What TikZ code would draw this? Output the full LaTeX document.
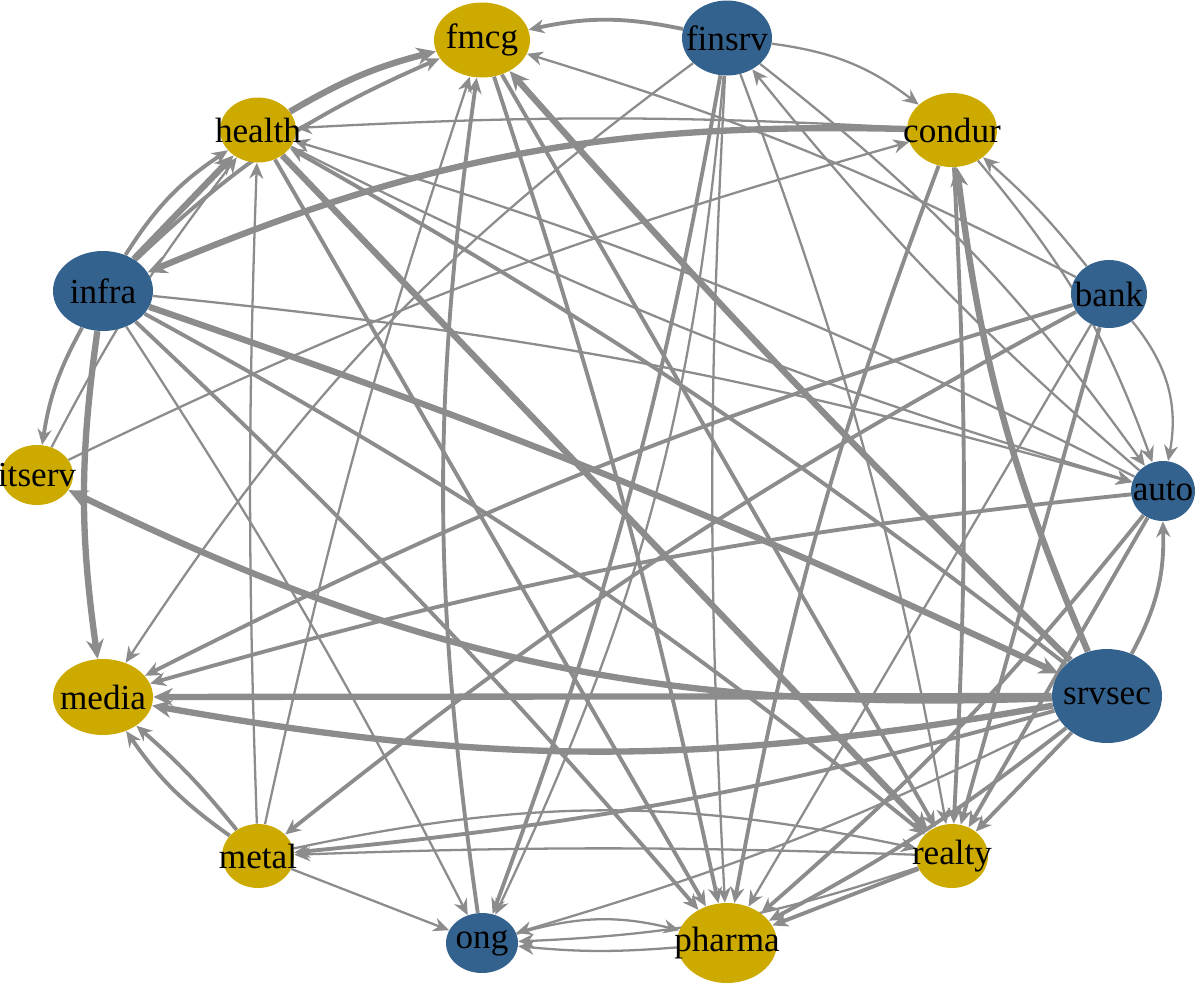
\documentclass[tikz,border=0pt]{standalone}
\usepackage{fontspec}
\setmainfont{Liberation Serif}
\usetikzlibrary{shapes.geometric,arrows.meta}
\definecolor{ny}{RGB}{205,170,0}
\definecolor{nb}{RGB}{52,98,142}
\definecolor{eg}{RGB}{140,140,140}
\pgfdeclarelayer{bg}
\pgfsetlayers{bg,main}
\begin{document}
\begin{tikzpicture}[x=0.02cm,y=-0.02cm,
  vtx/.style={ellipse,inner sep=0pt,label={[font=\fontsize{20}{20}\selectfont,inner sep=0pt]center:#1}},
  yv/.style={vtx=#1,fill=ny},
  bv/.style={vtx=#1,fill=nb},
  ed/.style={draw=eg,line width=1.3pt,-{Stealth[length=9pt,width=8pt]}},
  em/.style={ed,line width=2.2pt},
  et/.style={ed,line width=3.6pt,-{Stealth[length=11pt,width=10pt]}}]
\useasboundingbox (0,0) rectangle (1200,985);
\node[yv=fmcg,minimum width=1.92cm,minimum height=1.5cm] (fmcg) at (482,40) {};
\node[bv=finsrv,minimum width=1.8cm,minimum height=1.5cm] (finsrv) at (727,38) {};
\node[yv=health,minimum width=1.52cm,minimum height=1.3cm] (health) at (258,130) {};
\node[yv=condur,minimum width=1.8cm,minimum height=1.48cm] (condur) at (952,130) {};
\node[bv=infra,minimum width=2cm,minimum height=1.6cm] (infra) at (103,291) {};
\node[bv=bank,minimum width=1.52cm,minimum height=1.36cm] (bank) at (1109,294) {};
\node[yv=itserv,minimum width=1.44cm,minimum height=1.2cm] (itserv) at (37,475) {};
\node[bv=auto,minimum width=1.28cm,minimum height=1.2cm] (auto) at (1163,491) {};
\node[yv=media,minimum width=2cm,minimum height=1.52cm] (media) at (103,697) {};
\node[bv=srvsec,minimum width=2.2cm,minimum height=1.88cm] (srvsec) at (1107,696) {};
\node[yv=metal,minimum width=1.44cm,minimum height=1.28cm] (metal) at (258,856) {};
\node[yv=realty,minimum width=1.44cm,minimum height=1.28cm] (realty) at (952,856) {};
\node[bv=ong,minimum width=1.44cm,minimum height=1.2cm] (ong) at (482,943) {};
\node[yv=pharma,minimum width=2cm,minimum height=1.6cm] (pharma) at (727,943) {};
\begin{pgfonlayer}{bg}
\draw[em] (finsrv) to[bend right=12] (fmcg);
\draw[ed] (finsrv) to[bend left=15] (condur);
\draw[em] (finsrv) to[bend left=5] (ong);
\draw[ed] (finsrv) to[bend right=3] (pharma);
\draw[ed] (finsrv) to[bend left=5] (realty);
\draw[ed] (finsrv) to[bend right=10] (media);
\draw[ed] (finsrv) to[bend left=8] (auto);
\draw[ed] (finsrv) to[bend left=10] (ong);
\draw[em] (infra) to[bend left=10] (fmcg);
\draw[em] (infra) to[bend left=12] (health);
\draw[et] (infra) to (health);
\draw[et] (condur) to[bend right=12] (infra);
\draw[em] (infra) to[bend right=10] (itserv);
\draw[et] (infra) to[bend left=3] (srvsec);
\draw[em] (infra) to[bend left=5] (realty);
\draw[em] (infra) to[bend left=3] (pharma);
\draw[ed] (infra) to[bend left=3] (ong);
\draw[et] (infra) to[bend right=8] (media);
\draw[ed] (infra) to[bend left=5] (auto);
\draw[ed] (itserv) to[bend left=5] (health);
\draw[ed] (itserv) to[bend left=5] (condur);
\draw[et] (srvsec) to[bend left=14] (itserv);
\draw[et] (health) to[bend left=8] (fmcg);
\draw[et] (health) to (realty);
\draw[em] (health) to (pharma);
\draw[ed] (health) to[bend right=5] (auto);
\draw[ed] (condur) to[bend right=3] (health);
\draw[et] (srvsec) to[bend left=2] (fmcg);
\draw[em] (srvsec) to[bend right=4] (health);
\draw[et] (srvsec) to[bend left=8] (condur);
\draw[em] (srvsec) to[bend right=15] (auto);
\draw[em] (srvsec) to (realty);
\draw[em] (srvsec) to[bend left=5] (pharma);
\draw[em] (srvsec) to[bend left=5] (metal);
\draw[et] (srvsec) to (media);
\draw[et] (srvsec) to[bend left=10] (media);
\draw[ed] (srvsec) to[bend left=5] (ong);
\draw[ed] (bank) to[bend right=5] (fmcg);
\draw[em] (bank) to[bend right=5] (media);
\draw[em] (bank) to[bend right=5] (metal);
\draw[ed] (bank) to[bend left=25] (auto);
\draw[em] (bank) to (realty);
\draw[ed] (bank) to (pharma);
\draw[ed] (bank) to[bend right=5] (condur);
\draw[em] (auto) to[bend right=5] (media);
\draw[ed] (auto) to[bend right=5] (health);
\draw[em] (auto) to (realty);
\draw[em] (auto) to[bend left=5] (pharma);
\draw[ed] (auto) to[bend left=5] (finsrv);
\draw[em] (condur) to[bend right=5] (pharma);
\draw[em] (condur) to[bend left=3] (realty);
\draw[ed] (condur) to[bend left=10] (auto);
\draw[em] (fmcg) to[bend left=3] (pharma);
\draw[em] (fmcg) to (realty);
\draw[em] (ong) to[bend left=8] (fmcg);
\draw[ed] (metal) to[bend left=3] (fmcg);
\draw[ed] (metal) to[bend left=2] (health);
\draw[em] (metal) to[bend left=10] (media);
\draw[em] (metal) to[bend right=5] (media);
\draw[ed] (metal) to (ong);
\draw[ed] (metal) to[bend left=12] (realty);
\draw[ed] (realty) to[bend right=2] (metal);
\draw[ed] (ong) to[bend left=15] (pharma);
\draw[ed] (pharma) to[bend left=5] (ong);
\draw[em] (realty) to (pharma);
\draw[ed] (realty) to[bend left=8] (ong);
\end{pgfonlayer}
\end{tikzpicture}
\end{document}
